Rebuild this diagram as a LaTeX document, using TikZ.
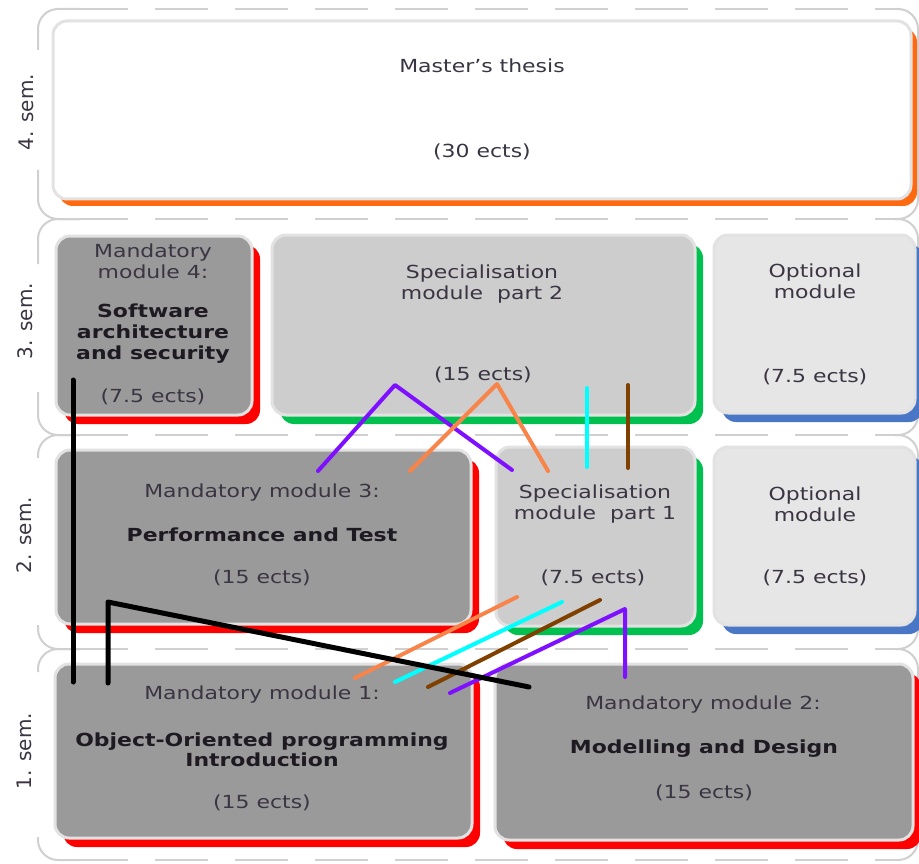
\documentclass[tikz,border=0pt]{standalone}
\usepackage{fontspec}
\setmainfont{DejaVu Sans}[FakeStretch=1.22]
\newfontfamily\semfont{DejaVu Sans}
\usetikzlibrary{shadows}
\definecolor{bandgray}{HTML}{D0D0D0}
\definecolor{boxedge}{HTML}{E2E2E2}
\definecolor{darkfill}{HTML}{9A9A9A}
\definecolor{midfill}{HTML}{CDCDCD}
\definecolor{lightfill}{HTML}{E6E6E6}
\definecolor{txtgray}{HTML}{3A3542}
\definecolor{txtbold}{HTML}{1E1A22}
\definecolor{shorange}{HTML}{FF6A10}
\definecolor{shred}{HTML}{FF0000}
\definecolor{shgreen}{HTML}{00C050}
\definecolor{shblue}{HTML}{4A76C6}
\definecolor{lnpurple}{HTML}{7F10FF}
\definecolor{lnorange}{HTML}{F8844A}
\definecolor{lncyan}{HTML}{00FFFF}
\definecolor{lnbrown}{HTML}{7F4000}
\begin{document}
\begin{tikzpicture}[x=1pt,y=-1pt,
  bandline/.style={draw=bandgray, line width=2pt},
  banddash/.style={bandline, dash pattern=on 53pt off 27pt},
  semlabel/.style={rotate=90, text=txtgray, inner sep=2pt,
    font=\semfont\fontsize{20}{22}\selectfont},
  modbox/.style={rounded corners=14pt, draw=boxedge, line width=3pt, inner sep=0pt},
  shadowed/.style={drop shadow={shadow xshift=8pt, shadow yshift=-9pt, fill=#1, opacity=1}},
  txt/.style={text=txtgray, align=center, inner sep=0pt, font=\fontsize{18}{21}\selectfont},
  btxt/.style={text=txtbold, align=center, inner sep=0pt, font=\bfseries\fontsize{18}{21}\selectfont},
  link/.style={line width=4pt, line cap=round, line join=round},
  blink/.style={line width=5pt, line cap=round, line join=round, draw=black}
]
\useasboundingbox (0,0) rectangle (919,864);
\fill[white] (0,0) rectangle (919,864);

% semester bands: left corners only (the label sits in the gap)
\draw[bandline, rounded corners=20pt] (80,9) -- (38,9) -- (38,50);
\draw[bandline, rounded corners=20pt] (38,170) -- (38,219) -- (80,219);
\draw[bandline, rounded corners=20pt] (80,219) -- (38,219) -- (38,264);
\draw[bandline, rounded corners=20pt] (38,392) -- (38,435) -- (80,435);
\draw[bandline, rounded corners=20pt] (80,435) -- (38,435) -- (38,458);
\draw[bandline, rounded corners=20pt] (38,625) -- (38,649) -- (80,649);
\draw[bandline, rounded corners=20pt] (80,649) -- (38,649) -- (38,672);
\draw[bandline, rounded corners=20pt] (38,837) -- (38,860) -- (80,860);
% right corners
\draw[bandline, rounded corners=20pt] (895,9) -- (918,9) -- (918,219) -- (895,219);
\draw[bandline, rounded corners=20pt] (895,219) -- (918,219) -- (918,435) -- (895,435);
\draw[bandline, rounded corners=20pt] (895,435) -- (918,435) -- (918,649) -- (895,649);
\draw[bandline, rounded corners=20pt] (895,649) -- (918,649) -- (918,860) -- (895,860);
% dashed top and bottom lines
\foreach \yy in {9,219,435,649,860}{
  \draw[banddash] (75,\yy) -- (900,\yy);
}
% keep the label gaps in the left side clear
\fill[white] (4,52) rectangle (47,168);
\fill[white] (4,266) rectangle (47,390);
\fill[white] (4,460) rectangle (47,623);
\fill[white] (4,674) rectangle (47,835);

\node[semlabel] (s4) at (26,112) {4. sem.};
\node[semlabel] (s3) at (25,321) {3. sem.};
\node[semlabel] (s2) at (24,535) {2. sem.};
\node[semlabel] (s1) at (24,751) {1. sem.};

% module boxes
\node[modbox, fill=white, minimum width=858pt, minimum height=178pt,
  drop shadow={shadow xshift=6pt, shadow yshift=-7pt, fill=shorange, opacity=1}] (thesis) at (482,110) {};
\node[modbox, fill=darkfill, minimum width=196pt, minimum height=179pt, shadowed=shred] (mm4) at (154,325.5) {};
\node[modbox, fill=midfill, minimum width=423pt, minimum height=180pt, shadowed=shgreen] (sp2) at (483.5,325) {};
\node[modbox, fill=lightfill, minimum width=201pt, minimum height=178pt, shadowed=shblue] (opt3) at (814.5,324) {};
\node[modbox, fill=darkfill, minimum width=415pt, minimum height=174pt, shadowed=shred] (mm3) at (263.5,537) {};
\node[modbox, fill=midfill, minimum width=199pt, minimum height=179pt, shadowed=shgreen] (sp1) at (595.5,536.5) {};
\node[modbox, fill=lightfill, minimum width=201pt, minimum height=178pt, shadowed=shblue] (opt2) at (814.5,536) {};
\node[modbox, fill=darkfill, minimum width=417pt, minimum height=174pt, shadowed=shred] (mm1) at (263.5,751) {};
\node[modbox, fill=darkfill, minimum width=418pt, minimum height=176pt, shadowed=shred] (mm2) at (704,752) {};

% texts
\node[txt] (t4a) at (482,66) {Master’s thesis};
\node[txt] (t4b) at (482,152) {(30 ects)};

\node[txt] (m4a) at (153,261) {Mandatory\\module 4:};
\node[btxt] (m4b) at (153,334) {Software\\architecture\\and security};
\node[txt] (m4c) at (153,397) {(7.5 ects)};

\node[txt] (p2a) at (482,284) {Specialisation\\module\ \ part 2};
\node[txt] (p2b) at (483,375) {(15 ects)};

\node[txt] (o3a) at (815,281) {Optional\\module};
\node[txt] (o3b) at (815,377) {(7.5 ects)};

\node[txt] (m3a) at (262,493) {Mandatory module 3:};
\node[btxt] (m3b) at (262,535) {Performance and Test};
\node[txt] (m3c) at (262,578) {(15 ects)};

\node[txt] (p1a) at (595,504) {Specialisation\\module\ \ part 1};
\node[txt] (p1b) at (593,578) {(7.5 ects)};

\node[txt] (o2a) at (815,504) {Optional\\module};
\node[txt] (o2b) at (815,578) {(7.5 ects)};

\node[txt] (m1a) at (262,695) {Mandatory module 1:};
\node[btxt, font=\bfseries\fontsize{18}{20}\selectfont] (m1b) at (262,750) {Object-Oriented programming\\Introduction};
\node[txt] (m1c) at (262,803) {(15 ects)};

\node[txt] (m2a) at (703,705) {Mandatory module 2:};
\node[btxt] (m2b) at (704,749) {Modelling and Design};
\node[txt] (m2c) at (704,793) {(15 ects)};

% connector coordinates
\coordinate (pu1) at (318,471); \coordinate (pu2) at (395,385); \coordinate (pu3) at (512,470);
\coordinate (or1) at (410,471); \coordinate (or2) at (497,384); \coordinate (or3) at (548,471);
\coordinate (cy1) at (587,388); \coordinate (cy2) at (587,467);
\coordinate (br1) at (628,385); \coordinate (br2) at (628,468);
\coordinate (or4) at (355,678); \coordinate (or5) at (517,597);
\coordinate (cy3) at (395,682); \coordinate (cy4) at (562,602);
\coordinate (br3) at (428,687); \coordinate (br4) at (600,600);
\coordinate (pu4) at (450,693); \coordinate (pu5) at (625,609); \coordinate (pu6) at (625,677);
\coordinate (bk1) at (73,380); \coordinate (bk2) at (73,682);
\coordinate (bk3) at (108,683); \coordinate (bk4) at (108,602); \coordinate (bk5) at (529,687);

% connectors
\draw[link, draw=lnpurple] (pu1) -- (pu2) -- (pu3);
\draw[link, draw=lnorange] (or1) -- (or2) -- (or3);
\draw[link, draw=lncyan] (cy1) -- (cy2);
\draw[link, draw=lnbrown] (br1) -- (br2);
\draw[link, draw=lnorange] (or4) -- (or5);
\draw[link, draw=lncyan] (cy3) -- (cy4);
\draw[link, draw=lnbrown] (br3) -- (br4);
\draw[link, draw=lnpurple] (pu4) -- (pu5) -- (pu6);
\draw[blink] (bk1) -- (bk2);
\draw[blink] (bk3) -- (bk4) -- (bk5);
\end{tikzpicture}
\end{document}
